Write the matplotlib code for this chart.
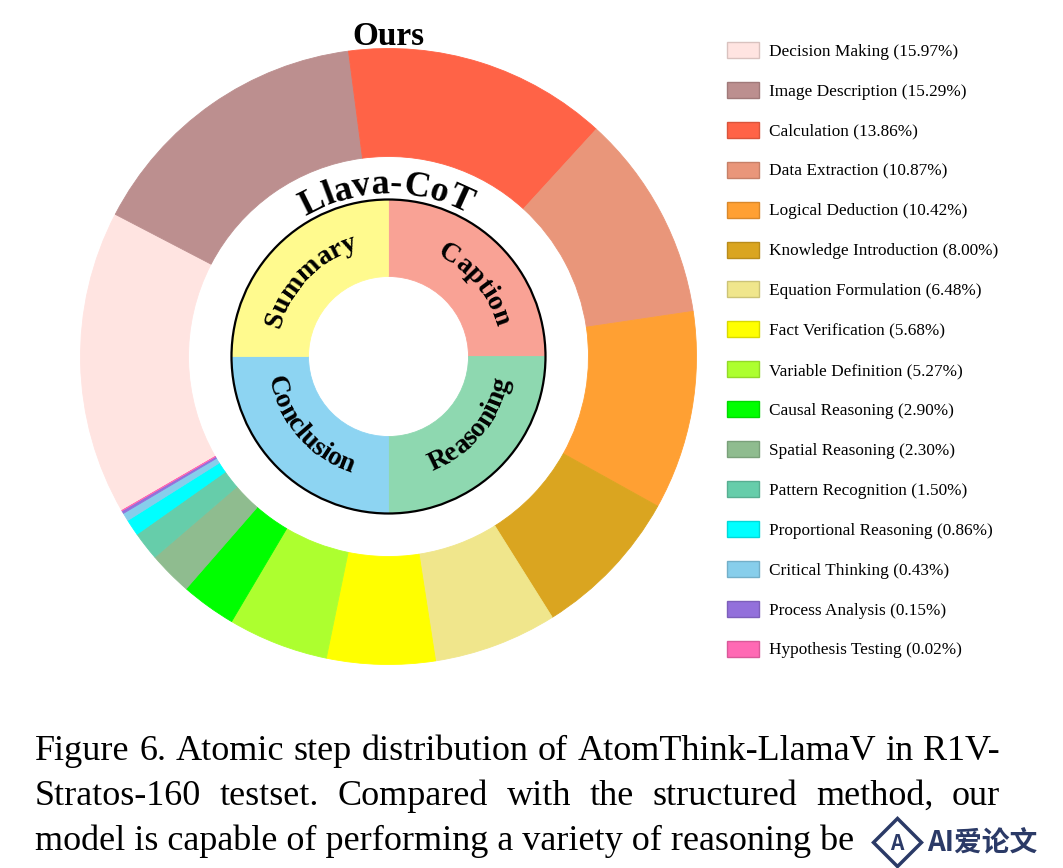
import matplotlib
matplotlib.use('Agg')
import matplotlib.pyplot as plt
import numpy as np
from matplotlib.patches import Patch, Circle, Rectangle
from matplotlib.font_manager import FontProperties

plt.rcParams['font.family'] = ['Liberation Serif', 'DejaVu Serif']

# outer ring: atomic steps of our model
steps = ['Decision Making', 'Image Description', 'Calculation', 'Data Extraction',
         'Logical Deduction', 'Knowledge Introduction', 'Equation Formulation',
         'Fact Verification', 'Variable Definition', 'Causal Reasoning',
         'Spatial Reasoning', 'Pattern Recognition', 'Proportional Reasoning',
         'Critical Thinking', 'Process Analysis', 'Hypothesis Testing']
shares = [15.97, 15.29, 13.86, 10.87, 10.42, 8.00, 6.48, 5.68, 5.27, 2.90,
          2.30, 1.50, 0.86, 0.43, 0.15, 0.02]
step_colors = ['#FFE4E1', '#BC8F8F', '#FF6347', '#E9967A', '#FFA033', '#DAA520',
               '#F0E68C', '#FFFF00', '#ADFF2F', '#00FF00', '#8FBC8F', '#66CDAA',
               '#00FFFF', '#87CEEB', '#9370DB', '#FF69B4']

# inner ring: structured stages of Llava-CoT
stages = ['Caption', 'Reasoning', 'Conclusion', 'Summary']
stage_shares = [25, 25, 25, 25]
stage_colors = ['#F9A295', '#8ED8B0', '#8DD4F2', '#FFFA8E']
stage_mid = [40, -40, -139, 136]

caption_lines = ['Figure 6. Atomic step distribution of AtomThink-LlamaV in R1V-',
                 'Stratos-160 testset.  Compared with the structured method, our',
                 'model is capable of performing a variety of reasoning be']

W, H = 1063, 868
fig = plt.figure(figsize=(W / 100, H / 100), dpi=100)
renderer = fig.canvas.get_renderer()

def text_w(s, fp):
    return renderer.get_text_width_height_descent(s, fp, ismath=False)[0]

cx, cy, R = 388.5, 356.5, 308.0
half = 340
ax = fig.add_axes([(cx - half) / W, (H - cy - half) / H, 2 * half / W, 2 * half / H])

wedges, _ = ax.pie(shares, radius=1, colors=step_colors, startangle=210,
                   counterclock=False, wedgeprops=dict(width=108 / R, linewidth=0.6))
for w in wedges:
    w.set_edgecolor(w.get_facecolor())

wedges2, _ = ax.pie(stage_shares, radius=157 / R, colors=stage_colors, startangle=90,
                    counterclock=False, wedgeprops=dict(width=77 / R, linewidth=0.6))
for w in wedges2:
    w.set_edgecolor(w.get_facecolor())
ax.add_patch(Circle((0, 0), 157 / R, fill=False, ec='black', lw=1.6, zorder=5))

ax.set_xlim(-half / R, half / R)
ax.set_ylim(-half / R, half / R)
ax.axis('off')


def arc_text(s, mid_deg, r_px, top, fp):
    total = text_w(s, fp)
    mid = np.deg2rad(mid_deg)
    for i, ch in enumerate(s):
        off = text_w(s[:i + 1], fp) - text_w(ch, fp) / 2 - total / 2
        if top:
            th = mid - off / r_px
            rot = np.rad2deg(th) - 90
        else:
            th = mid + off / r_px
            rot = np.rad2deg(th) + 90
        ax.text(r_px / R * np.cos(th), r_px / R * np.sin(th), ch, fontproperties=fp,
                rotation=rot, rotation_mode='anchor', ha='center', va='baseline', zorder=6)


big = FontProperties(family='Liberation Serif', weight='bold', size=26)
arc_text('Llava-CoT', 91, 163, True, big)

mid_fp = FontProperties(family='Liberation Serif', weight='bold', size=20)
for name, m in zip(stages, stage_mid):
    if m > 0:
        arc_text(name, m, 112, True, mid_fp)
    else:
        arc_text(name, m, 122, False, mid_fp)

# overlay in pixel coordinates
ov = fig.add_axes([0, 0, 1, 1])
ov.set_xlim(0, W)
ov.set_ylim(H, 0)
ov.axis('off')
ov.patch.set_alpha(0)

ov.text(388, 45, 'Ours', ha='center', va='baseline', fontsize=24, fontweight='bold')

def darker(c, f=0.85):
    rgb = np.array(matplotlib.colors.to_rgb(c))
    return tuple(rgb * f)

handles = [Patch(facecolor=c, edgecolor=darker(c), linewidth=1.0) for c in step_colors]
labels = ['%s (%.2f%%)' % (s, v) for s, v in zip(steps, shares)]
ov.legend(handles, labels, loc='upper left', bbox_to_anchor=(727, 42),
          bbox_transform=ov.transData, frameon=False, fontsize=12.4,
          handlelength=1.86, handleheight=1.05, handletextpad=0.55,
          labelspacing=1.28, borderpad=0, borderaxespad=0)

# figure caption below the chart
cap_fp = FontProperties(family='Liberation Serif', size=26)

def justify(line, y, x0, x1):
    words = line.split(' ')
    words = [w for w in words if w]
    ws = [text_w(w, cap_fp) for w in words]
    gap = (x1 - x0 - sum(ws)) / (len(words) - 1)
    x = x0
    for w, wd in zip(words, ws):
        ov.text(x, y, w, ha='left', va='baseline', fontproperties=cap_fp)
        x += wd + gap

justify(caption_lines[0], 760, 35, 1000)
justify(caption_lines[1], 805, 35, 1000)
ov.text(35, 850, caption_lines[2], ha='left', va='baseline', fontproperties=cap_fp)

# watermark
cjk = ['Noto Sans CJK SC', 'DejaVu Sans']
ov.add_patch(Rectangle((872, 818), 191, 50, color='white', zorder=3))
ov.plot(897, 842, marker='D', ms=24, mfc='none', mec='#2B3A67', mew=2.5, zorder=4)
ov.text(897, 843, 'A', color='#2B3A67', fontsize=15, fontweight='bold', family=cjk,
        ha='center', va='center', zorder=4)
ov.text(927, 843, 'AI爱论文', color='#2B3A67', fontsize=20, fontweight='bold', family=cjk,
        ha='left', va='center', zorder=4)

fig.savefig('out.png', dpi=100)
